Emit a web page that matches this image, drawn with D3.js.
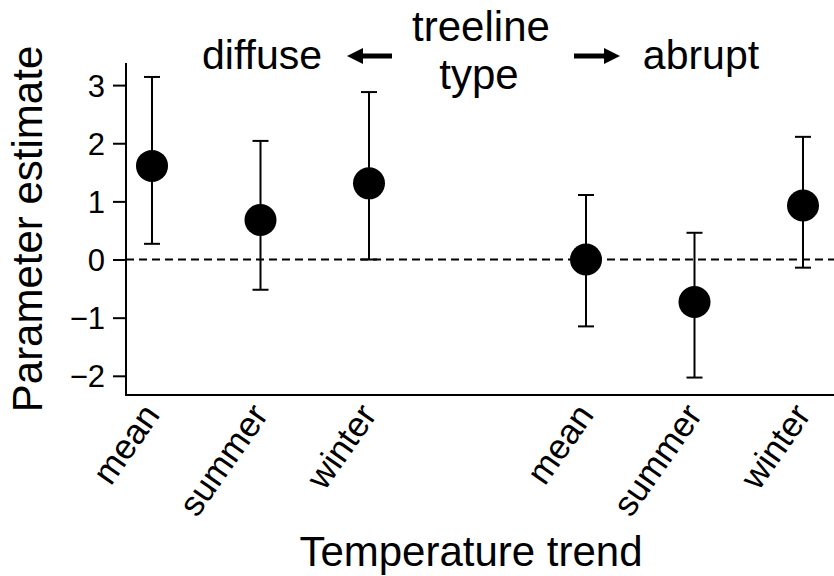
<!DOCTYPE html>
<html>
<head>
<meta charset="utf-8">
<script src="https://cdn.jsdelivr.net/npm/d3@7"></script>
<style>
  body { margin: 0; background: #fff; }
  text { font-family: "Liberation Sans", Arial, sans-serif; fill: #000; }
</style>
</head>
<body>
<div class="chart"></div>
<script>
;(function () {
  var W = 834
  var H = 576

  // data
  var positions = [1, 2, 3, 5, 6, 7]
  var trends = ['mean', 'summer', 'winter', 'mean', 'summer', 'winter']
  var estimates = [1.61, 0.68, 1.31, 0.0, -0.73, 0.93]
  var lowers = [0.27, -0.52, 0.0, -1.15, -2.03, -0.14]
  var uppers = [3.14, 2.04, 2.88, 1.11, 0.46, 2.11]
  var yTicks = [-2, -1, 0, 1, 2, 3]

  var svg = d3.select('.chart').append('svg')
    .attr('width', W)
    .attr('height', H)

  var left = 126
  var bottom = 395

  var x = d3.scaleLinear().domain([1, 7]).range([152, 803])
  var y = d3.scaleLinear().domain([-2.33, 3.38]).range([bottom, 63])

  // y axis
  var yAxis = d3.axisLeft(y)
    .tickValues(yTicks)
    .tickSize(13)
    .tickPadding(8)
    .tickFormat(function (d) { return d < 0 ? '\u2212' + Math.abs(d) : d })

  var gy = svg.append('g')
    .attr('transform', 'translate(' + left + ',0)')
    .call(yAxis)
    .attr('font-size', 31)
  gy.select('.domain').remove()
  gy.selectAll('.tick line').attr('stroke', '#000').attr('stroke-width', 2)
  gy.selectAll('.tick text')
    .attr('dy', '0.36em')

  svg.append('line')
    .attr('x1', left).attr('x2', left)
    .attr('y1', y.range()[1]).attr('y2', bottom)
    .attr('stroke', '#000').attr('stroke-width', 2)

  // x axis line (no ticks)
  svg.append('line')
    .attr('x1', left - 1).attr('x2', W)
    .attr('y1', bottom).attr('y2', bottom)
    .attr('stroke', '#000').attr('stroke-width', 2)

  // zero reference line
  svg.append('line')
    .attr('x1', left).attr('x2', W)
    .attr('y1', y(0)).attr('y2', y(0))
    .attr('stroke', '#000').attr('stroke-width', 2)
    .attr('stroke-dasharray', '8,5')

  // error bars
  var bars = svg.append('g').selectAll('g')
    .data(positions)
    .enter().append('g')

  bars.append('line')
    .attr('x1', function (d) { return x(d) })
    .attr('x2', function (d) { return x(d) })
    .attr('y1', function (d, i) { return y(lowers[i]) })
    .attr('y2', function (d, i) { return y(uppers[i]) })
    .attr('stroke', '#000').attr('stroke-width', 2)

  ;[lowers, uppers].forEach(function (arr) {
    bars.append('line')
      .attr('x1', function (d) { return x(d) - 8 })
      .attr('x2', function (d) { return x(d) + 8 })
      .attr('y1', function (d, i) { return y(arr[i]) })
      .attr('y2', function (d, i) { return y(arr[i]) })
      .attr('stroke', '#000').attr('stroke-width', 2)
  })

  bars.append('circle')
    .attr('cx', function (d) { return x(d) })
    .attr('cy', function (d, i) { return y(estimates[i]) })
    .attr('r', 16)
    .attr('fill', '#000')

  // rotated category labels
  svg.append('g').selectAll('text')
    .data(positions)
    .enter().append('text')
    .attr('transform', function (d) { return 'translate(' + (x(d) + 9) + ',' + 415 + ') rotate(-55)' })
    .attr('text-anchor', 'end')
    .style('font-size', '35px')
    .text(function (d, i) { return trends[i] })

  // axis titles
  svg.append('text')
    .attr('x', 471).attr('y', 566)
    .attr('text-anchor', 'middle')
    .style('font-size', '42px')
    .text('Temperature trend')

  svg.append('text')
    .attr('transform', 'translate(42,' + ((63 + bottom) / 2) + ') rotate(-90)')
    .attr('text-anchor', 'middle')
    .style('font-size', '42px')
    .text('Parameter estimate')

  // treeline type annotation
  svg.append('text').attr('x', 481).attr('y', 41)
    .attr('text-anchor', 'middle').style('font-size', '42px').text('treeline')
  svg.append('text').attr('x', 479).attr('y', 89)
    .attr('text-anchor', 'middle').style('font-size', '42px').text('type')
  svg.append('text').attr('x', 262).attr('y', 69)
    .attr('text-anchor', 'middle').style('font-size', '41px').text('diffuse')
  svg.append('text').attr('x', 701).attr('y', 69)
    .attr('text-anchor', 'middle').style('font-size', '41px').text('abrupt')

  function arrow (x0, x1, yy) {
    var dir = x1 > x0 ? 1 : -1
    var headLen = 16
    svg.append('line')
      .attr('x1', x0).attr('x2', x1 - dir * headLen)
      .attr('y1', yy).attr('y2', yy)
      .attr('stroke', '#000').attr('stroke-width', 5)
    svg.append('path')
      .attr('d', 'M' + x1 + ',' + yy +
        'L' + (x1 - dir * headLen) + ',' + (yy - 8) +
        'L' + (x1 - dir * headLen) + ',' + (yy + 8) + 'Z')
      .attr('fill', '#000')
  }
  arrow(392, 347, 56)
  arrow(574, 620, 56)
})()
</script>
</body>
</html>
